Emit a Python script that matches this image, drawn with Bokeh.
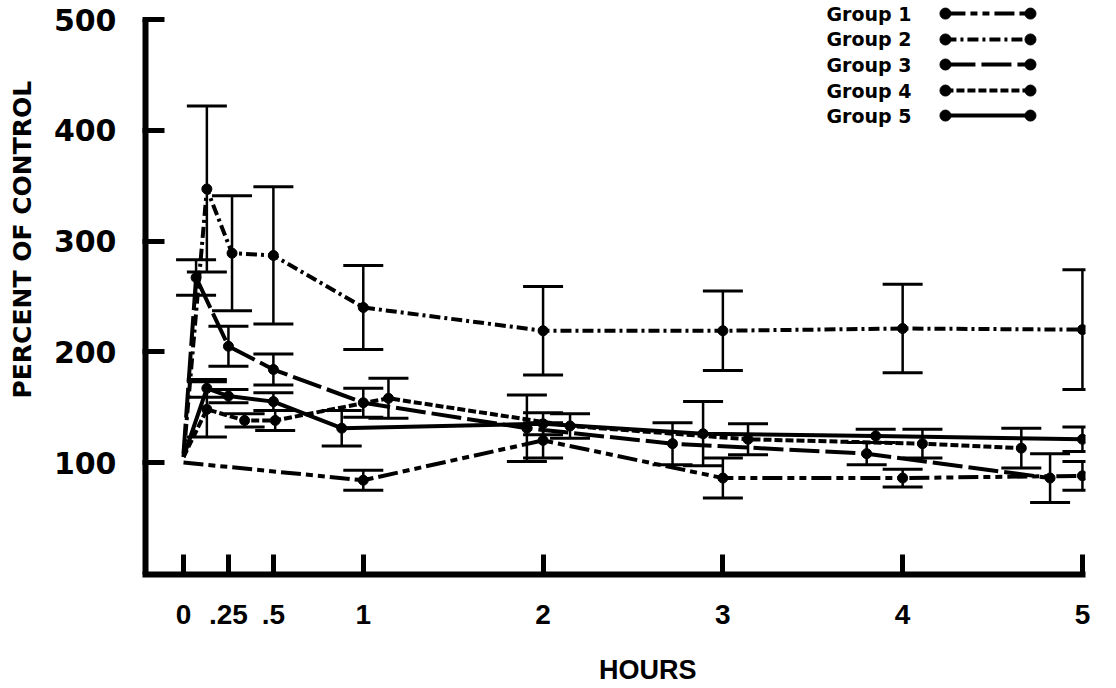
from bokeh.plotting import figure
from bokeh.models import Range1d, ColumnDataSource, Whisker, TeeHead, FixedTicker
from bokeh.embed import file_html
from bokeh.resources import INLINE
from bokeh.core.properties import value

# ---------------- data ----------------
groups = ["Group 1", "Group 2", "Group 3", "Group 4", "Group 5"]

g1_hours = [0, 1, 2, 3, 4, 5]
g1_pct = [100, 84, 120, 86, 86, 88]
g1_err = [0, 9, 16, 18, 8, 13]

g2_hours = [0, 0.13, 0.27, 0.5, 1, 2, 3, 4, 5]
g2_pct = [105, 347, 289, 287, 240, 219, 219, 221, 220]
g2_err = [0, 75, 52, 62, 38, 40, 36, 40, 54]

g3_hours = [0, 0.07, 0.25, 0.5, 1, 1.91, 2.72, 3.8, 4.82]
g3_pct = [108, 267, 205, 184, 154, 131, 117, 108, 86]
g3_err = [0, 16, 18, 14, 13, 30, 19, 10, 22]

g4_hours = [0, 0.13, 0.34, 0.51, 1.14, 2.15, 3.14, 4.11, 4.66]
g4_pct = [105, 148, 138, 138, 158, 133, 121, 117, 113]
g4_err = [0, 25, 6, 9, 18, 11, 14, 13, 18]

g5_hours = [0, 0.13, 0.25, 0.5, 0.88, 2.0, 2.89, 3.85, 5.0]
g5_pct = [105, 167, 160, 155, 131, 135, 126, 124, 121]
g5_err = [0, 8, 6, 8, 16, 10, 29, 6, 11]

x_ticks = [0, 0.25, 0.5, 1, 2, 3, 4, 5]
x_tick_labels = ["0", ".25", ".5", "1", "2", "3", "4", "5"]
y_ticks = [100, 200, 300, 400, 500]
x_title = "HOURS"
y_title = "PERCENT OF CONTROL"

series = [
    (g1_hours, g1_pct, g1_err, "20 5 7 5 7 5"),
    (g2_hours, g2_pct, g2_err, "11 4 3 4"),
    (g3_hours, g3_pct, g3_err, "30 6"),
    (g4_hours, g4_pct, g4_err, "8 3"),
    (g5_hours, g5_pct, g5_err, "solid"),
]

# ---------------- figure ----------------
X0, X1 = -0.228, 5.017
Y0, Y1 = -1.1, 517.2

p = figure(width=1116, height=688, output_backend="svg", toolbar_location=None,
           x_range=Range1d(X0, X1), y_range=Range1d(Y0, Y1),
           min_border_left=142, min_border_right=31, min_border_top=0,
           min_border_bottom=114)
p.outline_line_color = None
p.grid.visible = False
p.background_fill_color = "white"
p.border_fill_color = "white"

SANS = "Liberation Sans"
WIDE = "DejaVu Sans"
NB = "\u00a0"

xa = p.xaxis[0]
xa.ticker = FixedTicker(ticks=x_ticks)
xa.major_label_overrides = {t: lab for t, lab in zip(x_ticks, x_tick_labels)}
xa.axis_line_width = 6
xa.axis_line_color = "black"
xa.major_tick_in = 20
xa.major_tick_out = 0
xa.major_tick_line_width = 5
xa.minor_tick_line_color = None
xa.major_label_standoff = 30
xa.major_label_text_font = SANS
xa.major_label_text_font_style = "bold"
xa.major_label_text_font_size = "28px"
xa.major_label_text_color = "black"
xa.axis_label = NB * 9 + x_title
xa.axis_label_standoff = 28
xa.axis_label_text_font = SANS
xa.axis_label_text_font_style = "bold"
xa.axis_label_text_font_size = "27px"
xa.axis_label_text_color = "black"

ya = p.yaxis[0]
ya.ticker = FixedTicker(ticks=y_ticks)
ya.axis_line_color = None
ya.major_tick_in = 22
ya.major_tick_out = 0
ya.major_tick_line_width = 5
ya.minor_tick_line_color = None
ya.major_label_standoff = 26
ya.major_label_text_font = WIDE
ya.major_label_text_font_style = "bold"
ya.major_label_text_font_size = "30px"
ya.major_label_text_color = "black"
ya.axis_label = NB * 11 + y_title
ya.axis_label_standoff = 14
ya.axis_label_text_font = WIDE
ya.axis_label_text_font_style = "bold"
ya.axis_label_text_font_size = "25px"
ya.axis_label_text_color = "black"

# vertical axis line ending at 500 (half of its width is clipped by the frame edge)
p.segment(x0=[X0], y0=[Y0], x1=[X0], y1=[y_ticks[-1]], line_width=12, line_color="black")

# ---------------- series ----------------
for hrs, pct, err, dash in series:
    pts = [(h, v, e) for h, v, e in zip(hrs, pct, err) if e > 0]
    src = ColumnDataSource(dict(x=[a[0] for a in pts],
                                y=[a[1] for a in pts],
                                upper=[a[1] + a[2] for a in pts],
                                lower=[a[1] - a[2] for a in pts]))
    w = Whisker(base="x", upper="upper", lower="lower", source=src,
                line_width=2.5, line_color="black",
                upper_head=TeeHead(size=40, line_width=3, line_color="black"),
                lower_head=TeeHead(size=40, line_width=3, line_color="black"))
    p.add_layout(w)
    p.line(hrs, pct, line_width=4, line_color="black", line_dash=dash)
    p.scatter("x", "y", source=src, size=10, color="black")

# ---------------- legend (label left, sample right) ----------------
leg_y = [505.4, 482.0, 459.4, 435.9, 413.3]
leg_tx, leg_l0, leg_l1 = 3.576, 4.238, 4.711
p.text(x=[leg_tx] * 5, y=leg_y, text=groups, text_font=value(WIDE),
       text_font_style="bold", text_font_size="19px", text_baseline="middle",
       text_align="left", text_color="black")
for (hrs, pct, err, dash), ly in zip(series, leg_y):
    p.line([leg_l0, leg_l1], [ly, ly], line_width=4, line_color="black", line_dash=dash)
    p.scatter([leg_l0, leg_l1], [ly, ly], size=11, color="black")

open("out.html", "w").write(file_html(p, INLINE))
